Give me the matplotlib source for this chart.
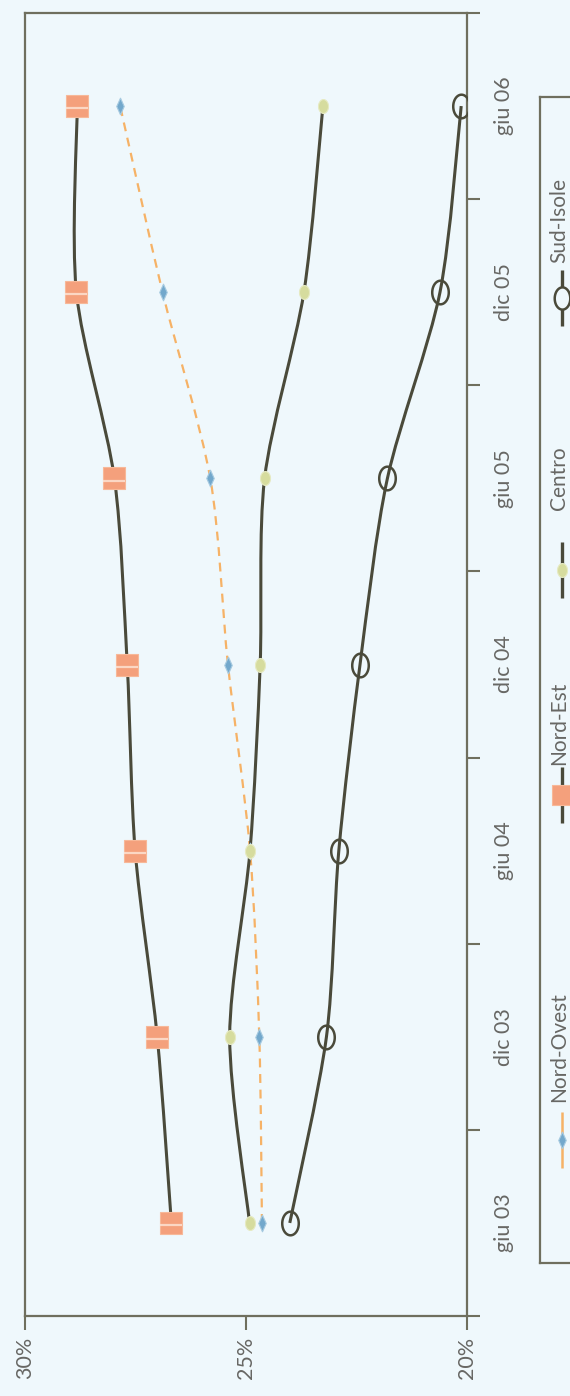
import matplotlib
matplotlib.use("Agg")
import matplotlib.pyplot as plt
import numpy as np
from matplotlib.path import Path
from matplotlib.patches import PathPatch
from matplotlib.ticker import FixedLocator, NullFormatter, FixedFormatter

# ---- data -------------------------------------------------------------
periods = ["giu 03", "dic 03", "giu 04", "dic 04", "giu 05", "dic 05", "giu 06"]
nord_ovest = [24.63, 24.69, 24.90, 25.40, 25.80, 26.88, 27.84]
nord_est = [26.68, 27.00, 27.50, 27.68, 27.97, 28.83, 28.81]
centro = [24.91, 25.36, 24.90, 24.67, 24.57, 23.68, 23.25]
sud_isole = [24.00, 23.17, 22.89, 22.41, 21.79, 20.60, 20.12]
value_ticks = [30, 25, 20]
series_names = ["Nord-Ovest", "Nord-Est", "Centro", "Sud-Isole"]

# ---- style ------------------------------------------------------------
BG = "#eff8fc"
FRAME = "#6f6f5e"
DARK = "#4a4a3a"
ORANGE = "#f6b266"
BLUE = "#72a8cc"
SALMON = "#f4a07c"
OLIVE_LIGHT = "#d6dc9e"
TEXT = "#676764"

plt.rcParams["font.family"] = ["Lato", "DejaVu Sans"]
plt.rcParams["font.weight"] = "normal"


def smooth_path(xs, ys):
    """Smoothed (Catmull-Rom as cubic Bezier) path through the points."""
    pts = np.column_stack([xs, ys]).astype(float)
    n = len(pts)
    verts = [pts[0]]
    codes = [Path.MOVETO]
    for i in range(n - 1):
        p0 = pts[max(i - 1, 0)]
        p1 = pts[i]
        p2 = pts[i + 1]
        p3 = pts[min(i + 2, n - 1)]
        verts += [p1 + (p2 - p0) / 7.0, p2 - (p3 - p1) / 7.0, p2]
        codes += [Path.CURVE4] * 3
    return Path(verts, codes)


t = np.linspace(0, 2 * np.pi, 64)
ellipse_marker = Path(np.column_stack([0.70 * np.cos(t), np.sin(t)]), closed=True)
narrow_ellipse = Path(np.column_stack([0.72 * np.cos(t), np.sin(t)]), closed=True)
diamond_marker = Path([(0, 1), (0.45, 0), (0, -1), (-0.45, 0), (0, 1)], closed=True)

W, H = 570, 1396
fig = plt.figure(figsize=(W / 100, H / 100), dpi=100, facecolor=BG)

ax = fig.add_axes([24.7 / W, (H - 1316) / H, (466.5 - 24.7) / W, (1316 - 13) / H])
ax.set_facecolor(BG)

idx = np.arange(len(periods))

# Nord-Ovest: dashed orange line, blue diamonds
ax.add_patch(PathPatch(smooth_path(nord_ovest, idx), fill=False, edgecolor=ORANGE,
                       lw=1.6, linestyle=(0, (4, 3)), zorder=2))
ax.plot(nord_ovest, idx, ls="none", marker=diamond_marker, ms=12, mfc=BLUE,
        mec="#a6cae0", mew=0.8, zorder=3)

# Nord-Est: dark line, salmon squares
ax.add_patch(PathPatch(smooth_path(nord_est, idx), fill=False, edgecolor=DARK,
                       lw=2.2, zorder=2))
ax.plot(nord_est, idx, ls="none", marker="s", ms=16.5, mfc=SALMON, mec="#f7b898",
        mew=0.8, zorder=3)
ax.plot(nord_est, idx - 0.012, ls="none", marker="_", ms=16.5, mec="#fde2d2",
        mew=1.6, alpha=0.85, zorder=3)

# Centro: dark line, pale olive ellipses
ax.add_patch(PathPatch(smooth_path(centro, idx), fill=False, edgecolor=DARK,
                       lw=2.2, zorder=2))
ax.plot(centro, idx, ls="none", marker=narrow_ellipse, ms=10, mfc=OLIVE_LIGHT,
        mec="#e6eac2", mew=0.8, zorder=3)

# Sud-Isole: dark line, open ellipses
ax.add_patch(PathPatch(smooth_path(sud_isole, idx), fill=False, edgecolor=DARK,
                       lw=2.2, zorder=2))
ax.plot(sud_isole, idx, ls="none", marker=ellipse_marker, ms=17, mfc="none",
        mec=DARK, mew=1.8, zorder=3)

# ---- axes -------------------------------------------------------------
ax.set_xlim(30, 20)
ax.set_ylim(-0.5, len(periods) - 0.5)
for s in ax.spines.values():
    s.set_color(FRAME)
    s.set_linewidth(1.6)

ax.xaxis.set_major_locator(FixedLocator(value_ticks))
ax.xaxis.set_major_formatter(FixedFormatter([f"{v}%" for v in value_ticks]))
ax.tick_params(axis="x", direction="out", length=10, width=1.5, color=FRAME,
               labelsize=15.5, labelcolor=TEXT, labelrotation=90, pad=5)

ax.yaxis.tick_right()
ax.yaxis.set_major_locator(FixedLocator(np.arange(-0.5, len(periods), 1.0)))
ax.yaxis.set_major_formatter(NullFormatter())
ax.yaxis.set_minor_locator(FixedLocator(idx))
ax.yaxis.set_minor_formatter(FixedFormatter(periods))
ax.tick_params(axis="y", which="major", direction="out", length=9, width=1.5,
               color=FRAME, left=False, right=True)
ax.tick_params(axis="y", which="minor", length=0, left=False, right=True,
               labelright=True, labelleft=False, labelsize=15.5,
               labelcolor=TEXT, pad=20)
for lab in ax.yaxis.get_minorticklabels():
    lab.set_rotation(90)
    lab.set_va("center")
    lab.set_ha("left")

# ---- legend (rotated, drawn by hand) ----------------------------------
leg = fig.add_axes([540 / W, (H - 1263) / H, 120 / W, (1263 - 97) / H])
leg.set_facecolor(BG)
leg.set_xlim(540, 660)
leg.set_ylim(1263, 97)
leg.set_xticks([])
leg.set_yticks([])
for s in leg.spines.values():
    s.set_color(FRAME)
    s.set_linewidth(1.6)

hx = 562
handle_y = [1140, 795, 570, 298]
text_y = [1102, 765, 510, 263]
styles = [
    dict(color=ORANGE, lw=1.8, marker=diamond_marker, ms=12, mfc=BLUE, mec="#a6cae0"),
    dict(color=DARK, lw=2.4, marker="s", ms=14, mfc=SALMON, mec="#f7b898"),
    dict(color=DARK, lw=2.4, marker=narrow_ellipse, ms=10, mfc=OLIVE_LIGHT, mec="#e6eac2"),
    dict(color=DARK, lw=2.4, marker=ellipse_marker, ms=16, mfc=BG, mec=DARK, mew=1.8),
]
for name, hy, ty, st in zip(series_names, handle_y, text_y, styles):
    st = dict(st)
    mew = st.pop("mew", 0.8)
    leg.plot([hx, hx], [hy - 28, hy + 28], color=st["color"], lw=st["lw"],
             solid_capstyle="butt")
    leg.plot([hx], [hy], ls="none", marker=st["marker"], ms=st["ms"],
             mfc=st["mfc"], mec=st["mec"], mew=mew)
    leg.text(559, ty, name, rotation=90, ha="center", va="bottom",
             fontsize=15, color=TEXT)

fig.savefig("out.png", dpi=100, facecolor=BG)
